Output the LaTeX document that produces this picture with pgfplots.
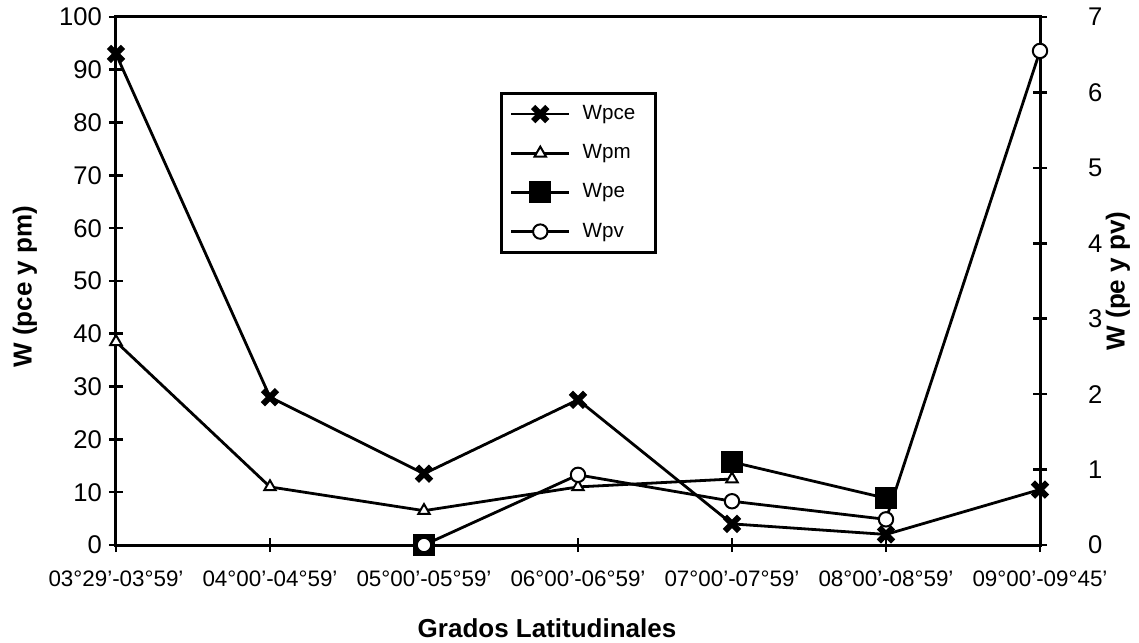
\documentclass[border=0pt]{standalone}
\usepackage{fontspec}
\setmainfont{Liberation Sans}
\usepackage{pgfplots}
\pgfplotsset{compat=1.18}
\begin{document}
\begin{tikzpicture}
\pgfplotsset{
  common/.style={scale only axis, width=462pt, height=264pt, xmin=0, xmax=6,
    at={(0,0)}, anchor=south west,
    axis line style={line width=1.5pt}, tick style={line width=1.3pt, black},
    tick align=center, major tick length=7pt,
    /pgf/number format/assume math mode=true,
    yticklabel style={font=\fontsize{12.8}{14}\selectfont},
    xticklabel style={font=\fontsize{11.2}{13}\selectfont},
    label style={font=\bfseries\fontsize{13}{15}\selectfont},
    clip=false},
  pce/.style={black, line width=1.4pt, mark=x, mark size=5pt, mark options={line width=3pt}},
  pm/.style={black, line width=1.4pt, mark=triangle*, mark size=3.3pt, mark options={fill=white, line width=1pt}},
  pe/.style={black, line width=1.4pt, mark=square*, mark size=4.8pt, mark options={fill=black}},
  pv/.style={black, line width=1.4pt, mark=*, mark size=3.6pt, mark options={fill=white, line width=1pt}},
}
\begin{axis}[common, ymin=0, ymax=100, ytick={0,10,...,100},
  xtick={0,...,6}, ytick pos=left, xtick pos=lower,
  xticklabels={03°29'-03°59', 04°00'-04°59', 05°00'-05°59', 06°00'-06°59', 07°00'-07°59', 08°00'-08°59', 09°00'-09°45'},
  xticklabel style={yshift=-6pt},
  ylabel={W (pce y pm)}, xlabel={Grados Latitudinales},
  ylabel style={at={(axis description cs:-0.0985,0.489)}, anchor=center},
  xlabel style={at={(axis description cs:0.4665,-0.157)}, anchor=center}]
\addplot[pce] coordinates {(0,93) (1,28) (2,13.5) (3,27.5) (4,4) (5,2) (6,10.5)};
\addplot[pm] coordinates {(0,38.5) (1,11) (2,6.5) (3,11) (4,12.5)};
\end{axis}
\begin{axis}[common, ymin=0, ymax=7, ytick={0,...,7},
  axis y line*=right, axis x line=none,
  yticklabel style={xshift=17pt},
  ylabel={W (pe y pv)},
  ylabel style={at={(axis description cs:1.0844,0.5)}, anchor=center},
  unbounded coords=jump,
  legend cell align=left,
  legend style={at={(axis description cs:0.416,0.858)}, anchor=north west,
    draw=black, line width=1.5pt, font=\fontsize{10.3}{12}\selectfont,
    row sep=7pt, inner xsep=4pt, inner ysep=4pt,
    nodes={inner xsep=6pt}},
  legend image code/.code={\draw[mark repeat=2, mark phase=2] plot coordinates {(0pt,0pt) (14.5pt,0pt) (29pt,0pt)};}]
\addlegendimage{pce}
\addlegendentry{Wpce}
\addlegendimage{pm}
\addlegendentry{Wpm}
\addplot[pe] coordinates {(2,0) (3,nan) (4,1.1) (5,0.62)};
\addlegendentry{Wpe}
\addplot[pv] coordinates {(2,0) (3,0.93) (4,0.58) (5,0.34) (6,6.55)};
\addlegendentry{Wpv}
\end{axis}
\pgfresetboundingbox
\path[use as bounding box] (-58pt,-48.5pt) rectangle (511.5pt,272.5pt);
\end{tikzpicture}
\end{document}
